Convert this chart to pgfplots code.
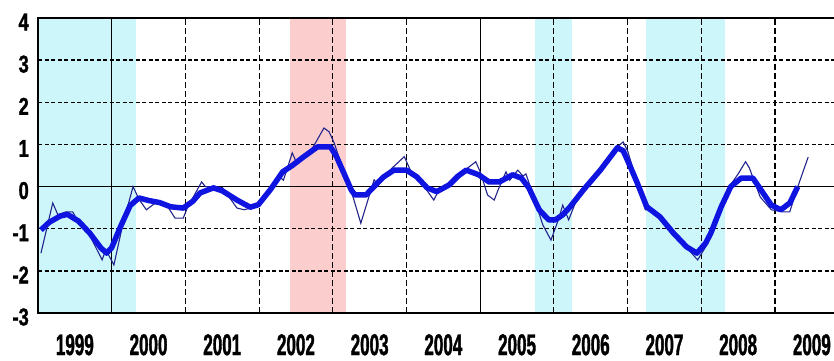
\documentclass[border=0pt]{standalone}
\usepackage{pgfplots}
\pgfplotsset{compat=1.18}
\usepackage{fontspec}
\setmainfont{Liberation Sans}
\newfontfamily\ylabfont[FakeStretch=0.75,FakeBold=1.2]{Liberation Sans}
\newfontfamily\xlabfont[FakeStretch=0.57,FakeBold=1.2]{Liberation Sans}
\definecolor{bandc}{RGB}{205,246,250}
\definecolor{bandr}{RGB}{251,205,205}
\definecolor{thickb}{RGB}{15,20,225}
\definecolor{thinb}{RGB}{35,35,140}
\begin{document}
\begin{tikzpicture}
\begin{axis}[
  at={(0,0)}, anchor=south west,
  scale only axis, width=810.7bp, height=295bp,
  xmin=1999, xmax=2010, ymin=-3, ymax=4,
  set layers,
  xtick={1999.5,2000.5,2001.5,2002.5,2003.5,2004.5,2005.5,2006.5,2007.5,2008.5,2009.5},
  xticklabels={1999,2000,2001,2002,2003,2004,2005,2006,2007,2008,2009},
  minor xtick={2001,2002,2003,2004,2006,2007,2008,2009},
  xminorgrids,
  minor grid style={black, line width=1.1bp, dash pattern=on 6bp off 3bp},
  ytick={-3,-2,-1,0,1,2,3,4},
  yticklabels={-3,-2,-1,0,1,2,3,4},
  ymajorgrids,
  major grid style={black, line width=1.5bp, dash pattern=on 4bp off 2.5bp},
  extra x ticks={2000,2005}, extra x tick labels={},
  extra x tick style={xmajorgrids=true, major grid style={black, solid, line width=1bp}},
  extra y ticks={0}, extra y tick labels={},
  extra y tick style={ymajorgrids=true, major grid style={black, solid, line width=1.3bp}},
  major tick length=0pt, minor tick length=0pt,
  axis line style={black, line width=1.8bp},
  xticklabel style={font=\xlabfont\bfseries\fontsize{30}{30}\selectfont, anchor=north, inner sep=0pt, yshift=-21bp},
  yticklabel style={font=\ylabfont\bfseries\fontsize{24.5}{24.5}\selectfont, anchor=east, inner sep=0pt, xshift=-9bp, yshift=-4bp},
]
\addplot[draw=none, fill=bandc, on layer=axis background] coordinates {(1999,-3) (2000.33,-3) (2000.33,4) (1999,4)} -- cycle;
\addplot[draw=none, fill=bandr, on layer=axis background] coordinates {(2002.42,-3) (2003.18,-3) (2003.18,4) (2002.42,4)} -- cycle;
\addplot[draw=none, fill=bandc, on layer=axis background] coordinates {(2005.74,-3) (2006.24,-3) (2006.24,4) (2005.74,4)} -- cycle;
\addplot[draw=none, fill=bandc, on layer=axis background] coordinates {(2007.25,-3) (2008.32,-3) (2008.32,4) (2007.25,4)} -- cycle;
% monthly index (thin)
\addplot[thinb, line width=1.1bp, mark=none] table {
1999.04 -1.58
1999.20 -0.39
1999.27 -0.67
1999.38 -0.60
1999.47 -0.60
1999.52 -0.75
1999.70 -1.15
1999.87 -1.74
1999.92 -1.50
2000.03 -1.86
2000.15 -0.90
2000.29 0.00
2000.37 -0.30
2000.47 -0.55
2000.60 -0.38
2000.75 -0.45
2000.86 -0.75
2000.97 -0.75
2001.03 -0.49
2001.22 0.11
2001.27 0.00
2001.50 -0.02
2001.70 -0.51
2001.80 -0.55
2001.90 -0.50
2002.05 -0.30
2002.15 -0.05
2002.28 0.23
2002.33 0.15
2002.45 0.80
2002.50 0.60
2002.60 0.70
2002.72 0.90
2002.88 1.39
2002.95 1.30
2003.02 1.03
2003.15 0.35
2003.25 -0.10
2003.38 -0.87
2003.56 0.16
2003.62 0.05
2003.75 0.35
2003.97 0.71
2004.05 0.40
2004.20 0.10
2004.37 -0.32
2004.45 -0.05
2004.60 0.05
2004.80 0.40
2004.94 0.59
2005.00 0.35
2005.10 -0.20
2005.19 -0.32
2005.25 -0.05
2005.35 0.35
2005.40 0.15
2005.51 0.39
2005.58 0.25
2005.62 0.30
2005.68 0.00
2005.85 -0.91
2005.96 -1.27
2006.06 -0.79
2006.12 -0.44
2006.20 -0.79
2006.30 -0.35
2006.45 0.00
2006.60 0.35
2006.80 0.85
2006.94 1.06
2007.00 0.85
2007.24 -0.55
2007.32 -0.55
2007.50 -0.80
2007.70 -1.25
2007.95 -1.74
2008.07 -1.40
2008.25 -0.60
2008.40 0.05
2008.50 0.30
2008.60 0.59
2008.65 0.45
2008.80 -0.25
2008.95 -0.55
2009.10 -0.60
2009.20 -0.60
2009.31 0.00
2009.45 0.70
};
% smoothed index (thick)
\addplot[thickb, line width=5.5bp, mark=none, line join=round] table {
1999.04 -1.03
1999.15 -0.85
1999.30 -0.70
1999.40 -0.66
1999.55 -0.82
1999.70 -1.10
1999.85 -1.45
1999.93 -1.58
2000.00 -1.45
2000.12 -0.95
2000.25 -0.45
2000.37 -0.27
2000.50 -0.33
2000.65 -0.38
2000.80 -0.48
2000.97 -0.51
2001.10 -0.35
2001.20 -0.15
2001.38 -0.03
2001.50 -0.10
2001.70 -0.32
2001.88 -0.49
2001.99 -0.43
2002.15 -0.08
2002.32 0.35
2002.45 0.50
2002.60 0.70
2002.79 0.94
2002.97 0.94
2003.05 0.71
2003.15 0.32
2003.25 -0.08
2003.30 -0.20
2003.45 -0.20
2003.56 0.00
2003.69 0.23
2003.83 0.39
2004.00 0.39
2004.14 0.23
2004.28 -0.03
2004.41 -0.12
2004.58 0.04
2004.70 0.25
2004.81 0.39
2004.98 0.28
2005.12 0.11
2005.26 0.11
2005.44 0.28
2005.56 0.20
2005.66 -0.03
2005.80 -0.55
2005.93 -0.79
2006.02 -0.79
2006.12 -0.67
2006.22 -0.48
2006.40 -0.08
2006.63 0.39
2006.86 0.92
2006.94 0.85
2007.03 0.50
2007.13 0.09
2007.26 -0.48
2007.44 -0.72
2007.62 -1.10
2007.80 -1.43
2007.94 -1.58
2008.06 -1.34
2008.13 -1.10
2008.27 -0.48
2008.40 0.00
2008.54 0.20
2008.70 0.20
2008.81 -0.08
2008.95 -0.44
2009.08 -0.55
2009.20 -0.39
2009.31 0.00
};
\end{axis}
\pgfresetboundingbox
\path[use as bounding box] (-38bp,-48bp) rectangle (796bp,313bp);
\end{tikzpicture}
\end{document}
